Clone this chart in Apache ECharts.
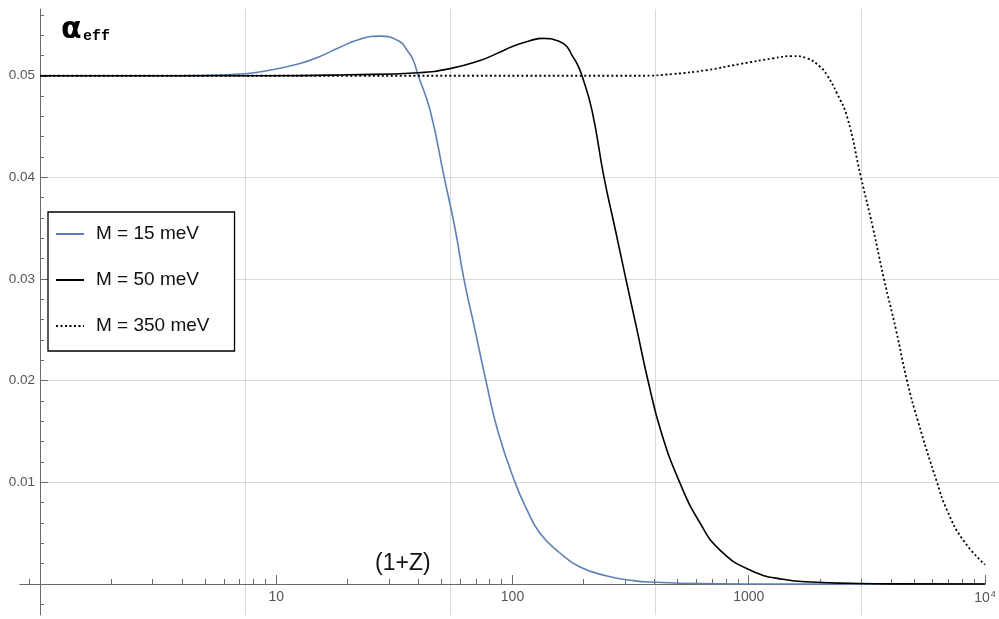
<!DOCTYPE html>
<html>
<head>
<meta charset="utf-8">
<script src="https://cdn.jsdelivr.net/npm/echarts@6/dist/echarts.min.js"></script>
<style>
  html, body { margin: 0; padding: 0; background: #fff; }
  #chart { width: 999px; height: 619px; }
</style>
</head>
<body>
<div id="chart"></div>
<script>
// (1+Z) sample points and alpha_eff
const zM15 = [1, 3, 4.75, 7.38, 9.14, 12.6, 15.3, 18.6, 22.6, 27.5, 33.4, 35.8, 37.9, 39.8, 44.8, 51.4, 57.1, 62.3, 69.4, 77.2, 86.8, 102.5, 115.2, 130.7, 158.9, 193.1, 251, 323.6, 408.9, 622, 1500, 10000];
const aM15 = [0.05, 0.05, 0.05003, 0.0502, 0.0505, 0.0512, 0.0519, 0.0528, 0.0536, 0.0539, 0.05335, 0.0525, 0.0516, 0.0501, 0.0466, 0.04, 0.035, 0.03, 0.025, 0.02, 0.015, 0.01, 0.0073, 0.005, 0.00305, 0.00167, 0.00079, 0.00033, 0.00017, 0.00005, 0, 0];

const zM50 = [1, 9.14, 20.5, 39.8, 54.4, 72.9, 86.0, 100.5, 118.6, 134.6, 158.9, 170.1, 178.6, 187.5, 196.9, 217, 244, 271.6, 302, 336.5, 374.7, 425.3, 510, 622, 755.5, 1012, 1396, 1945, 2683, 4000, 10000];
const aM50 = [0.05, 0.05, 0.0501, 0.0503, 0.0507, 0.0515, 0.0522, 0.0529, 0.05345, 0.05368, 0.05335, 0.05286, 0.052, 0.0512, 0.05, 0.0466, 0.04, 0.035, 0.03, 0.025, 0.02, 0.015, 0.01, 0.006, 0.00334, 0.00138, 0.00046, 0.00017, 0.00007, 0.00001, 0];

const zM350 = [1, 346.5, 478, 666, 918, 1266, 1525, 1764, 2002, 2144, 2363, 2606, 2986, 3357, 3736, 4201, 4676, 5205, 6265, 6903, 8072, 10000];
const aM350 = [0.05, 0.05, 0.05017, 0.05056, 0.05115, 0.05171, 0.05194, 0.05171, 0.05089, 0.05007, 0.04827, 0.04598, 0.04, 0.035, 0.03, 0.025, 0.02, 0.016, 0.01, 0.00728, 0.00433, 0.0019];

const seriesNames = ['M = 15 meV', 'M = 50 meV', 'M = 350 meV'];

// ticks
const xMajorTicks = [1, 10, 100, 1000, 10000];
const xMinorTicks = [0.9, 2, 3, 4, 5, 6, 7, 8, 9, 20, 30, 40, 50, 60, 70, 80, 90,
  200, 300, 400, 500, 600, 700, 800, 900, 2000, 3000, 4000, 5000, 6000, 7000, 8000, 9000];
const xLabelTicks = [10, 100, 1000, 10000];
const xGridValues = [7.389, 54.6, 403.4, 2981]; // e^2, e^4, e^6, e^8
const yMajorTicks = [0, 0.01, 0.02, 0.03, 0.04, 0.05];
const yLabelTicks = [0.01, 0.02, 0.03, 0.04, 0.05];

const axisGray = '#6a6a6a';
const labelGray = '#555';
const gridGray = '#d9d9d9';

function pairs(xs, ys) {
  return xs.map((x, i) => [x, ys[i]]);
}

const chart = echarts.init(document.getElementById('chart'), null, { renderer: 'canvas' });

chart.setOption({
  animation: false,
  backgroundColor: '#fff',
  grid: [
    // data + x axis, bottom edge sits on alpha = 0
    { left: 20, right: 14, top: 9, bottom: 35, outerBoundsMode: 'none', containLabel: false },
    // y axis + gridlines
    { left: 40, right: 0, top: 9, bottom: 4, outerBoundsMode: 'none', containLabel: false }
  ],
  xAxis: [
    {
      gridIndex: 0, type: 'log', logBase: 10, min: 0.823, max: 10000, position: 'bottom',
      axisLine: { onZero: false, lineStyle: { color: axisGray, width: 1 } },
      axisTick: { inside: true, length: 9, customValues: xMajorTicks, lineStyle: { color: axisGray } },
      axisLabel: {
        customValues: xLabelTicks, margin: 6, color: labelGray, fontSize: 14,
        fontFamily: 'Liberation Sans', hideOverlap: false,
        formatter: function (v) {
          const e = Math.round(Math.log10(v));
          return e === 4 ? '10{sup|4}' : String(Math.round(v));
        },
        rich: { sup: { fontSize: 9, color: labelGray, padding: [0, 0, 8, 1], fontFamily: 'Liberation Sans' } }
      },
      splitLine: { show: false }
    },
    {
      gridIndex: 0, type: 'log', logBase: 10, min: 0.823, max: 10000, position: 'bottom',
      axisLine: { onZero: false, lineStyle: { color: axisGray, width: 1 } },
      axisTick: { inside: true, length: 5, customValues: xMinorTicks, lineStyle: { color: axisGray } },
      axisLabel: { show: false },
      splitLine: { show: false }
    },
    {
      gridIndex: 1, type: 'log', logBase: 10, min: 1, max: 11463,
      axisLine: { show: false },
      axisTick: { show: false, customValues: xGridValues },
      axisLabel: { show: false },
      splitLine: { show: true, lineStyle: { color: gridGray, width: 1 } }
    }
  ],
  yAxis: [
    {
      gridIndex: 0, type: 'value', min: 0, max: 0.056567, show: false
    },
    {
      gridIndex: 1, type: 'value', min: -0.00305, max: 0.056567,
      minInterval: 0.01, maxInterval: 0.01, position: 'left',
      axisLine: { show: true, onZero: false, lineStyle: { color: axisGray, width: 1 } },
      axisTick: { inside: true, length: 8, customValues: yMajorTicks, lineStyle: { color: axisGray } },
      minorTick: { show: true, splitNumber: 5, length: 4, lineStyle: { color: axisGray } },
      axisLabel: {
        customValues: yLabelTicks, margin: 5, color: labelGray, fontSize: 13.5,
        fontFamily: 'Liberation Sans',
        formatter: function (v) { return v.toFixed(2); }
      },
      splitLine: { show: true, showMinLine: false, showMaxLine: false, lineStyle: { color: gridGray, width: 1 } }
    }
  ],
  legend: {
    data: seriesNames,
    orient: 'vertical',
    left: 48, top: 212,
    itemWidth: 28, itemHeight: 14, itemGap: 26,
    padding: [12, 25, 15, 7],
    borderColor: '#000', borderWidth: 1.3,
    backgroundColor: '#fff',
    itemStyle: { opacity: 0 },
    textStyle: { fontSize: 19, color: '#111', fontFamily: 'Liberation Sans', lineHeight: 20, padding: [0, 0, 0, 7] }
  },
  graphic: [
    { type: 'text', left: 61, top: 15, style: { text: 'α', font: 'bold 30px "DejaVu Sans"', fill: '#000' } },
    { type: 'text', left: 83, top: 29, style: { text: 'eff', font: 'bold 15px "Liberation Mono"', fill: '#000' } },
    { type: 'text', left: 375, top: 552, style: { text: '(1+Z)', font: '23px "Liberation Sans"', fill: '#111' } }
  ],
  series: [
    {
      name: seriesNames[0], type: 'line', xAxisIndex: 0, yAxisIndex: 0,
      data: pairs(zM15, aM15), symbol: 'none', smooth: 0.5, clip: false,
      lineStyle: { color: '#5e81b5', width: 1.6 }, itemStyle: { color: '#5e81b5' }
    },
    {
      name: seriesNames[1], type: 'line', xAxisIndex: 0, yAxisIndex: 0,
      data: pairs(zM50, aM50), symbol: 'none', smooth: 0.5, clip: false,
      lineStyle: { color: '#000', width: 1.6 }, itemStyle: { color: '#000' }
    },
    {
      name: seriesNames[2], type: 'line', xAxisIndex: 0, yAxisIndex: 0,
      data: pairs(zM350, aM350), symbol: 'none', smooth: 0.5, clip: false,
      lineStyle: { color: '#000', width: 1.8, type: [2, 2.5] }, itemStyle: { color: '#000' }
    }
  ]
});
</script>
</body>
</html>
